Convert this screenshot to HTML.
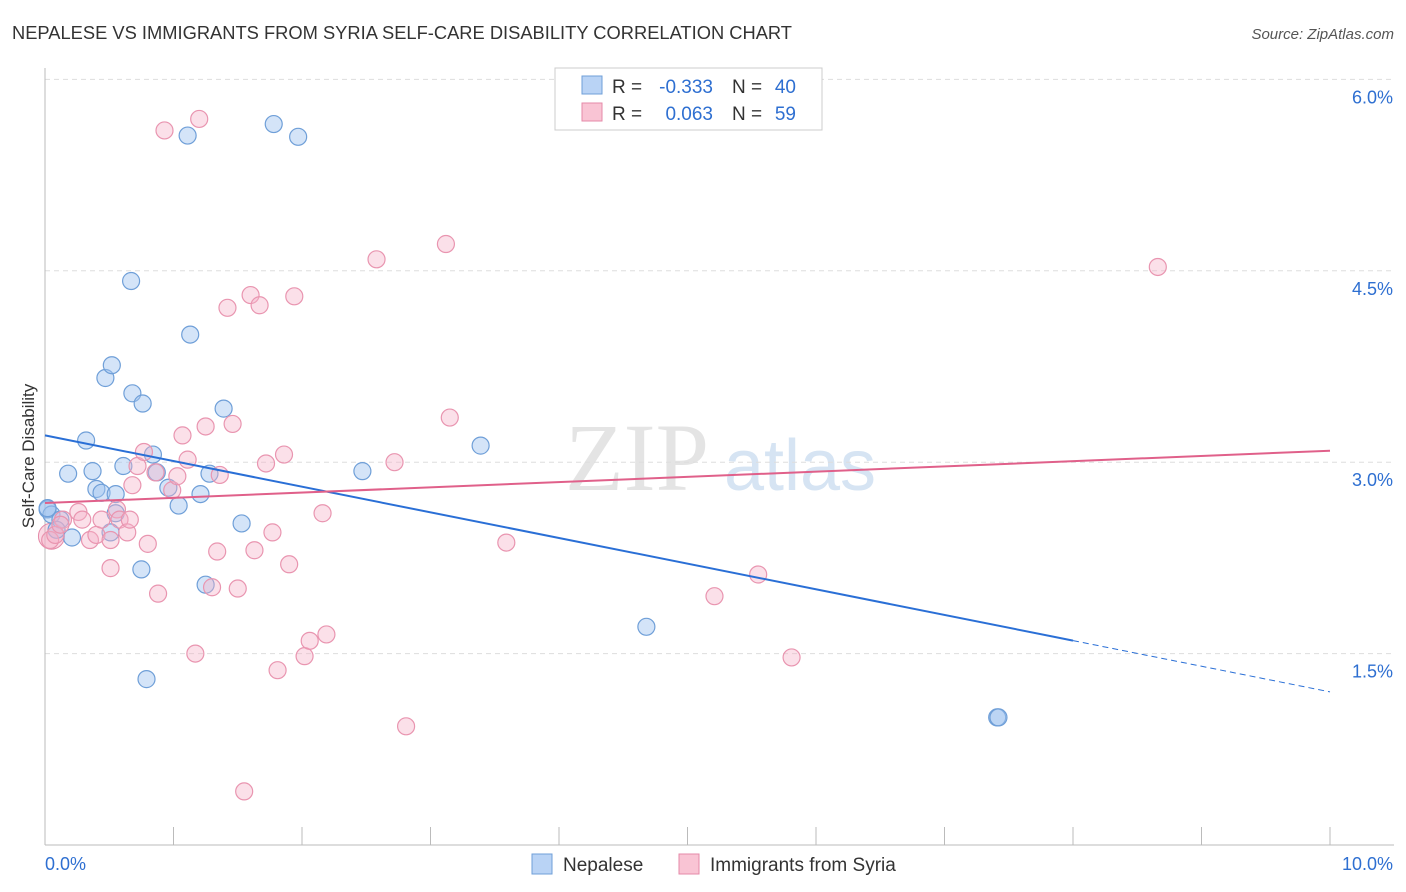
<!DOCTYPE html>
<html><head><meta charset="utf-8"><style>
body{margin:0;background:#fff;font-family:"Liberation Sans",sans-serif;}
svg{display:block}
</style></head><body>
<svg id="chart" width="1406" height="892" xmlns="http://www.w3.org/2000/svg">
<text x="12" y="39" font-size="18" textLength="780" lengthAdjust="spacingAndGlyphs" fill="#333">NEPALESE VS IMMIGRANTS FROM SYRIA SELF-CARE DISABILITY CORRELATION CHART</text>
<text x="1394" y="39" font-size="15" fill="#555" text-anchor="end" font-style="italic">Source: ZipAtlas.com</text>
<text x="637" y="490" font-size="96" fill="#e4e4e4" font-family="Liberation Serif,serif" text-anchor="middle">ZIP</text>
<text x="800" y="490" font-size="72" fill="#d6e4f3" text-anchor="middle">atlas</text>
<g id="grid"></g>
<g id="axes"></g>
<g id="points"></g>
<g id="trends"></g>
<text transform="translate(34,456) rotate(-90)" font-size="17" fill="#333" text-anchor="middle">Self-Care Disability</text>
<g>
<rect x="555" y="68" width="267" height="62" fill="#fff" stroke="#ccc"/>
<rect x="582" y="76" width="20" height="18" fill="#b9d3f5" stroke="#6f9fd8"/>
<rect x="582" y="103" width="20" height="18" fill="#f9c4d4" stroke="#e58aa8"/>
<text x="612" y="93" font-size="19" fill="#333">R =</text>
<text x="713" y="93" font-size="19" fill="#2e6fd1" text-anchor="end">-0.333</text>
<text x="732" y="93" font-size="19" fill="#333">N =</text>
<text x="796" y="93" font-size="19" fill="#2e6fd1" text-anchor="end">40</text>
<text x="612" y="120" font-size="19" fill="#333">R =</text>
<text x="713" y="120" font-size="19" fill="#2e6fd1" text-anchor="end">0.063</text>
<text x="732" y="120" font-size="19" fill="#333">N =</text>
<text x="796" y="120" font-size="19" fill="#2e6fd1" text-anchor="end">59</text>
</g>
<g>
<rect x="532" y="854" width="20" height="20" fill="#b9d3f5" stroke="#6f9fd8"/>
<text x="563" y="871" font-size="19" fill="#333">Nepalese</text>
<rect x="679" y="854" width="20" height="20" fill="#f9c4d4" stroke="#e58aa8"/>
<text x="710" y="871" font-size="19" fill="#333">Immigrants from Syria</text>
</g>
</svg>
<script>
const blueX=[0.02,0.05,0.12,0.09,0.18,0.21,0.32,0.37,0.40,0.44,0.51,0.55,0.55,0.47,0.52,0.67,0.68,0.76,0.61,0.84,0.87,0.96,1.04,1.11,1.13,1.21,1.28,1.39,1.25,0.75,0.79,1.53,1.78,1.97,2.47,3.39,4.68,7.41,7.42,0.02];
const blueY=[2.63,2.59,2.55,2.47,2.91,2.41,3.17,2.93,2.79,2.76,2.45,2.75,2.60,3.66,3.76,4.42,3.54,3.46,2.97,3.06,2.92,2.80,2.66,5.56,4.00,2.75,2.91,3.42,2.04,2.16,1.30,2.52,5.65,5.55,2.93,3.13,1.71,1.00,1.00,2.64];
const pinkX=[0.04,0.08,0.14,0.26,0.29,0.35,0.40,0.44,0.51,0.56,0.58,0.64,0.68,0.72,0.77,0.80,0.86,0.88,0.93,0.99,1.03,1.07,1.11,1.17,1.20,1.25,1.30,1.34,1.36,1.42,1.46,1.50,1.60,1.63,1.67,1.72,1.77,1.81,1.86,1.90,1.94,2.02,2.06,2.16,2.19,2.58,2.72,2.81,3.12,3.15,3.59,5.21,5.55,5.81,8.66,1.55,0.51,0.66,0.12];
const pinkY=[2.39,2.43,2.55,2.61,2.55,2.39,2.43,2.55,2.17,2.63,2.55,2.45,2.82,2.97,3.08,2.36,2.92,1.97,5.60,2.78,2.89,3.21,3.02,1.50,5.69,3.28,2.02,2.30,2.90,4.21,3.30,2.01,4.31,2.31,4.23,2.99,2.45,1.37,3.06,2.20,4.30,1.48,1.60,2.60,1.65,4.59,3.00,0.93,4.71,3.35,2.37,1.95,2.12,1.47,4.53,0.42,2.39,2.55,2.51];
const yTicks=[1.5,3.0,4.5,6.0];
const yTickLabels=["1.5%","3.0%","4.5%","6.0%"];
const xTicks=[0,1,2,3,4,5,6,7,8,9,10];
const xEndLabels=["0.0%","10.0%"];
const blueTrend=[3.21,1.20];
const pinkTrend=[2.68,3.09];
const blueSolidEnd=8.0;

const NS="http://www.w3.org/2000/svg";
const sx=v=>45+v*128.5;
const sy=v=>845-v*127.6;
function mk(tag,attrs,parent){const e=document.createElementNS(NS,tag);for(const k in attrs)e.setAttribute(k,attrs[k]);parent.appendChild(e);return e;}
const grid=document.getElementById('grid'),axes=document.getElementById('axes'),pts=document.getElementById('points'),tr=document.getElementById('trends');
yTicks.forEach((t,i)=>{
 const l=mk('line',{x1:45,x2:1394,y1:sy(t),y2:sy(t),stroke:'#ddd','stroke-dasharray':'5,4'},grid);
 
 
 const tx=mk('text',{x:1393,y:sy(t)+24,'font-size':18,fill:'#2e6fd1','text-anchor':'end'},axes);
 tx.textContent=yTickLabels[i];
 
 
});
let a=mk('line',{x1:45,x2:45,y1:68,y2:845,stroke:'#bbb'},axes);


a=mk('line',{x1:45,x2:1394,y1:845,y2:845,stroke:'#bbb'},axes);


xTicks.forEach(t=>{
 const l=mk('line',{x1:sx(t),x2:sx(t),y1:827,y2:845,stroke:'#bbb'},axes);
 
 
});
let t0=mk('text',{x:45,y:870,'font-size':18,fill:'#2e6fd1'},axes);t0.textContent=xEndLabels[0];


let t1=mk('text',{x:1393,y:870,'font-size':18,fill:'#2e6fd1','text-anchor':'end'},axes);t1.textContent=xEndLabels[1];


let b=mk('circle',{cx:sx(0.05),cy:sy(2.42),r:13,fill:'rgba(244,170,195,0.45)',stroke:'#e58aa8'},pts);


blueX.forEach((x,i)=>{
 const c=mk('circle',{cx:sx(x),cy:sy(blueY[i]),r:8.5,fill:'rgba(160,195,240,0.45)',stroke:'#6f9fd8','stroke-width':1.2},pts);
 
 
});
pinkX.forEach((x,i)=>{
 const c=mk('circle',{cx:sx(x),cy:sy(pinkY[i]),r:8.5,fill:'rgba(246,178,200,0.4)',stroke:'#e995b0','stroke-width':1.2},pts);
 
 
});
const by=x=>blueTrend[0]+(blueTrend[1]-blueTrend[0])*x/10;
let l=mk('line',{x1:sx(0),y1:sy(by(0)),x2:sx(blueSolidEnd),y2:sy(by(blueSolidEnd)),stroke:'#2a6fd6','stroke-width':2},tr);


l=mk('line',{x1:sx(blueSolidEnd),y1:sy(by(blueSolidEnd)),x2:sx(10),y2:sy(by(10)),stroke:'#2a6fd6','stroke-width':1,'stroke-dasharray':'6,4'},tr);


l=mk('line',{x1:sx(0),y1:sy(pinkTrend[0]),x2:sx(10),y2:sy(pinkTrend[1]),stroke:'#e0608a','stroke-width':2},tr);


</script>
</body></html>
